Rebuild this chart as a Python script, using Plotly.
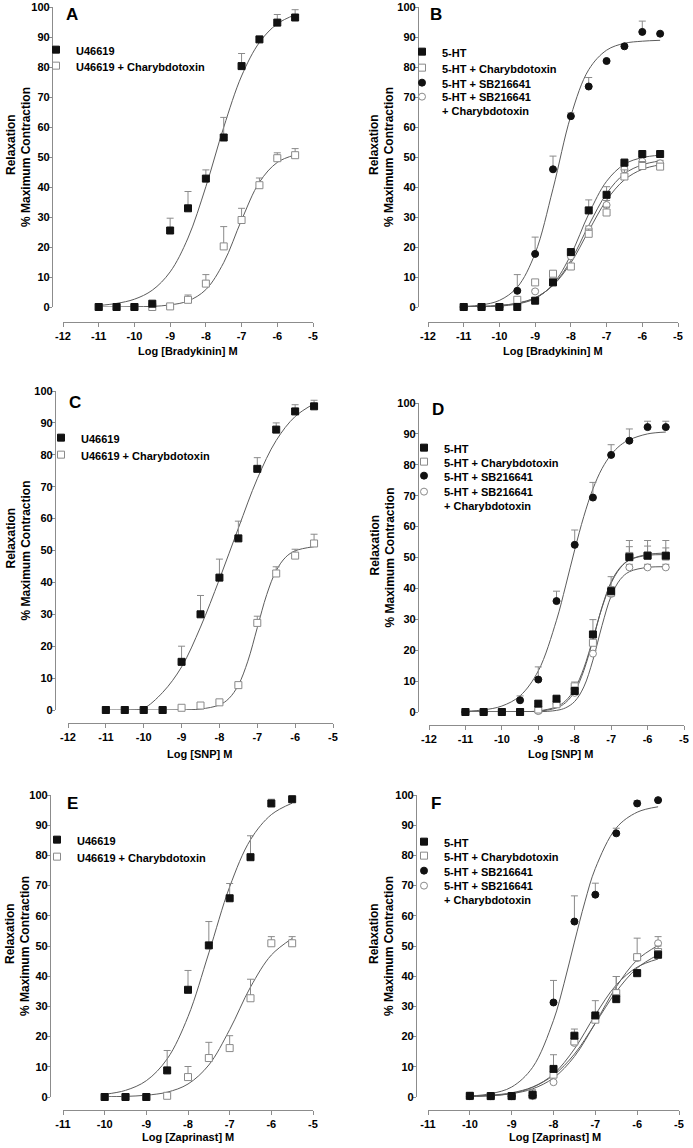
import plotly.graph_objects as go

W, H = 693, 1148

# ------------------------------------------------------------------ data
TICKS_12 = [-12, -11, -10, -9, -8, -7, -6, -5]
TICKS_12_TEXT = ["-12", "-11", "-10", "-9", "-8", "-7", "-6", "-5"]
TICKS_11 = [-11, -10, -9, -8, -7, -6, -5]
TICKS_11_TEXT = ["-11", "-10", "-9", "-8", "-7", "-6", "-5"]
Y_TICKS = [0, 10, 20, 30, 40, 50, 60, 70, 80, 90, 100]

# Panel A : bradykinin, U46619 pre-contraction
A_x = [-11, -10.5, -10, -9.5, -9, -8.5, -8, -7.5, -7, -6.5, -6, -5.5]
A_u46619 = [0, 0, 0, 1.1, 25.5, 32.9, 42.8, 56.5, 80.3, 89.2, 94.8, 96.5]
A_u46619_sem = [0, 0, 0, 0.5, 4.1, 5.6, 2.9, 6.7, 4.2, 0.6, 2.7, 2.6]
A_u46619_ctx = [0, 0, 0, 0, 0.2, 2.4, 7.8, 20.2, 29.0, 40.6, 49.6, 50.6]
A_u46619_ctx_sem = [0, 0, 0, 0, 0, 1.6, 3.0, 6.6, 3.9, 2.4, 1.8, 2.2]
A_fit_x = [-11, -10.5, -10, -9.5, -9, -8.5, -8, -7.5, -7, -6.5, -6, -5.5]
A_fit_u46619 = [0.5, 1.2, 2.6, 5.6, 11.7, 23.0, 40.1, 59.9, 77.0, 88.2, 94.4, 97.4]
A_fit_u46619_ctx = [0.0, 0.0, 0.1, 0.2, 0.7, 2.0, 5.8, 14.8, 29.0, 41.6, 48.2, 50.7]

# Panel B : bradykinin, 5-HT pre-contraction
B_x = [-11, -10.5, -10, -9.5, -9, -8.5, -8, -7.5, -7, -6.5, -6, -5.5]
B_5ht = [0, 0, 0, 0, 2.1, 8.2, 18.3, 32.2, 37.4, 48.1, 51.0, 51.0]
B_5ht_sem = [0, 0, 0, 0, 0, 1.0, 1.0, 3.5, 2.7, 1.2, 0.8, 0.8]
B_5ht_ctx = [0, 0, 0, 2.4, 8.2, 11.1, 13.5, 24.4, 31.5, 43.5, 47.0, 46.8]
B_5ht_ctx_sem = [0, 0, 0, 0.5, 0.5, 0.8, 1.0, 1.6, 1.8, 2.2, 1.5, 1.0]
B_5ht_sb = [0, 0, 0, 5.4, 17.7, 45.9, 63.6, 73.5, 82.0, 86.9, 91.7, 91.1]
B_5ht_sb_sem = [0, 0, 0, 5.4, 5.6, 4.4, 1.1, 3.0, 0, 0, 3.6, 0]
B_5ht_sb_ctx = [0, 0, 0, 1.0, 5.2, 9.5, 16.9, 26.0, 34.0, 45.9, 48.5, 47.9]
B_5ht_sb_ctx_sem = [0, 0, 0, 0, 0.5, 1.0, 1.0, 1.0, 1.5, 1.5, 1.5, 1.0]
B_fit_x = [-11, -10.5, -10, -9.5, -9, -8.5, -8, -7.5, -7, -6.5, -6, -5.5]
B_fit_5ht = [0.0, 0.1, 0.3, 1.0, 2.8, 7.6, 17.4, 31.0, 41.9, 47.6, 49.8, 50.6]
B_fit_5ht_ctx = [0.1, 0.2, 0.5, 1.3, 3.1, 7.2, 14.7, 25.4, 35.6, 42.4, 45.9, 47.4]
B_fit_5ht_sb = [0.2, 0.7, 2.2, 6.6, 17.9, 39.4, 63.7, 79.1, 85.6, 87.9, 88.6, 88.9]
B_fit_5ht_sb_ctx = [0.1, 0.2, 0.5, 1.2, 3.0, 7.3, 15.5, 27.2, 37.8, 44.4, 47.4, 48.7]

# Panel C : SNP, U46619 pre-contraction
C_x = [-11, -10.5, -10, -9.5, -9, -8.5, -8, -7.5, -7, -6.5, -6, -5.5]
C_u46619 = [0, 0, 0, 0, 15.1, 30.0, 41.5, 53.8, 75.6, 87.9, 93.6, 95.2]
C_u46619_sem = [0, 0, 0, 0, 4.9, 5.9, 5.8, 5.4, 3.5, 2.1, 2.1, 1.9]
C_u46619_ctx = [0, 0, 0, 0, 0.7, 1.4, 2.4, 7.8, 27.3, 42.8, 48.4, 52.2]
C_u46619_ctx_sem = [0, 0, 0, 0, 0, 0, 0, 0, 2.1, 2.1, 2.0, 2.9]
C_fit_u46619_x = [-10.5, -10.25, -10, -9.5, -9, -8.5, -8, -7.5, -7, -6.5, -6, -5.5]
C_fit_u46619 = [0, 0, 0.5, 5.5, 13.5, 26.0, 41.0, 57.0, 72.5, 84.5, 92.0, 96.0]
C_fit_ctx_x = [-11, -10.5, -10, -9.5, -9, -8.5, -8, -7.75, -7.5, -7.25, -7, -6.75,
               -6.5, -6.25, -6, -5.5]
C_fit_u46619_ctx = [0, 0, 0, 0, 0.05, 0.3, 1.6, 3.6, 7.8, 15.3, 25.8, 36.2,
                    43.7, 47.9, 49.9, 51.2]

# Panel D : SNP, 5-HT pre-contraction
D_x = [-11, -10.5, -10, -9.5, -9, -8.5, -8, -7.5, -7, -6.5, -6, -5.5]
D_5ht = [0, 0, 0, 0, 2.7, 4.3, 6.8, 25.1, 39.1, 50.1, 50.6, 50.6]
D_5ht_sem = [0, 0, 0, 0, 1.0, 0.8, 1.3, 4.8, 4.7, 5.4, 4.9, 4.9]
D_5ht_ctx = [0, 0, 0, 0, 0.8, 2.5, 8.3, 22.4, 38.6, 50.5, 50.6, 50.3]
D_5ht_ctx_sem = [0, 0, 0, 0, 0, 0, 1.4, 2.0, 2.0, 3.0, 3.1, 2.8]
D_5ht_sb = [0, 0, 0, 3.8, 10.5, 35.9, 54.1, 69.4, 83.2, 87.8, 92.2, 92.2]
D_5ht_sb_sem = [0, 0, 0, 1.4, 4.1, 3.2, 4.8, 4.9, 3.3, 3.8, 1.9, 1.9]
D_5ht_sb_ctx = [0, 0, 0, 0, 0.3, 2.7, 6.2, 18.9, 38.2, 46.8, 46.8, 46.8]
D_5ht_sb_ctx_sem = [0, 0, 0, 0, 0, 0, 0.5, 1.0, 1.5, 1.0, 1.0, 1.0]
D_fit_x = [-11, -10.5, -10, -9.5, -9, -8.5, -8.25, -8, -7.75, -7.5, -7.25, -7,
           -6.75, -6.5, -6, -5.5]
D_fit_5ht = [0, 0, 0, 0.04, 0.24, 1.32, 3.03, 6.64, 13.4, 23.3, 34.0, 42.1,
             46.8, 49.2, 50.7, 50.9]
D_fit_5ht_ctx = [0, 0, 0.01, 0.07, 0.35, 1.69, 3.63, 7.47, 14.2, 23.7, 33.8, 41.7,
                 46.6, 49.2, 51.0, 51.4]
D_fit_5ht_sb = [0.25, 0.69, 1.93, 5.23, 13.3, 29.7, 40.8, 52.5, 63.3, 72.2, 78.8, 83.3,
                86.3, 88.1, 90.0, 90.6]
D_fit_5ht_sb_ctx = [0, 0, 0, 0.01, 0.07, 0.52, 1.35, 3.42, 8.12, 16.8, 28.0, 37.5,
                    42.9, 45.4, 46.8, 47.0]

# Panel E : zaprinast, U46619 pre-contraction
E_x = [-10, -9.5, -9, -8.5, -8, -7.5, -7, -6.5, -6, -5.5]
E_u46619 = [0, 0, 0, 8.8, 35.5, 50.2, 65.8, 79.4, 97.2, 98.6]
E_u46619_sem = [0, 0, 0, 6.6, 6.4, 7.9, 4.9, 7.1, 1.4, 0.5]
E_u46619_ctx = [0, 0, 0, 0.4, 6.6, 12.9, 16.2, 32.7, 50.9, 50.9]
E_u46619_ctx_sem = [0, 0, 0, 0, 3.5, 5.2, 4.1, 6.3, 2.2, 2.2]
E_fit_x = [-10, -9.5, -9, -8.5, -8, -7.5, -7, -6.5, -6, -5.5]
E_fit_u46619 = [0.9, 2.2, 5.4, 12.6, 26.6, 47.7, 69.6, 85.2, 93.5, 97.3]
E_fit_u46619_ctx = [0.1, 0.2, 0.6, 1.6, 4.3, 10.6, 22.3, 36.4, 47.0, 52.5]

# Panel F : zaprinast, 5-HT pre-contraction
F_x = [-10, -9.5, -9, -8.5, -8, -7.5, -7, -6.5, -6, -5.5]
F_5ht = [0.4, 0.3, 0.3, 0.8, 9.3, 20.3, 27.0, 32.4, 41.0, 47.1]
F_5ht_sem = [0, 0, 0, 1.6, 4.7, 2.2, 4.9, 1.5, 1.2, 1.4]
F_5ht_ctx = [0.3, 0.3, 0.3, 0.5, 7.4, 18.4, 25.6, 34.4, 46.3, 48.0]
F_5ht_ctx_sem = [0, 0, 0, 0, 1.0, 1.5, 2.0, 5.5, 6.3, 2.0]
F_5ht_sb = [0.3, 0.3, 0.3, 0.5, 31.3, 58.1, 67.0, 87.3, 97.2, 98.3]
F_5ht_sb_sem = [0, 0, 0, 0, 7.3, 8.5, 3.8, 1.7, 0.9, 0]
F_5ht_sb_ctx = [0.3, 0.3, 0.3, 0.3, 4.9, 17.9, 26.9, 33.8, 46.0, 50.9]
F_5ht_sb_ctx_sem = [0, 0, 0, 0, 0.5, 0.5, 1.0, 6.1, 1.0, 2.2]
F_fit_x = [-10, -9.5, -9, -8.5, -8, -7.5, -7, -6.5, -6, -5.5]
F_fit_5ht = [0.2, 0.5, 1.2, 3.2, 7.6, 15.9, 27.2, 37.1, 43.0, 45.7]
F_fit_5ht_ctx = [0.3, 0.6, 1.4, 3.3, 7.2, 14.2, 24.4, 34.9, 42.7, 47.1]
F_fit_5ht_sb_ctx = [0.2, 0.4, 1.1, 2.7, 6.3, 13.4, 24.5, 36.5, 45.4, 50.2]
F_fit_sb_x = [-10, -9.5, -9, -8.5, -8, -7.75, -7.5, -7.25, -7, -6.5, -6, -5.5]
F_fit_5ht_sb = [0.3, 1.1, 3.3, 9.8, 25.4, 37.5, 51.3, 64.6, 75.7, 89.1, 94.3, 96.1]

NAME_U = "U46619"
NAME_U_CTX = "U46619 + Charybdotoxin"
NAME_5HT = "5-HT"
NAME_5HT_CTX = "5-HT + Charybdotoxin"
NAME_5HT_SB = "5-HT + SB216641"
NAME_5HT_SB_CTX = "5-HT + SB216641<br>+ Charybdotoxin"

X_TITLES = ["Log [Bradykinin] M", "Log [Bradykinin] M", "Log [SNP] M",
            "Log [SNP] M", "Log [Zaprinast] M", "Log [Zaprinast] M"]
LETTERS = ["A", "B", "C", "D", "E", "F"]

# ------------------------------------------------------------------ style
FONT = "Liberation Sans, Arial, sans-serif"
AXIS_GREY = "#8c8c8c"
CURVE_GREY = "#5c5c5c"
ERR_GREY = "#8a8a8a"
OPEN_EDGE = "#8a8a8a"

STYLE = {
    "fsq": dict(symbol="square", size=7, color="#111111", line=dict(color="#111111", width=1)),
    "osq": dict(symbol="square", size=7, color="#ffffff", line=dict(color=OPEN_EDGE, width=1)),
    "fci": dict(symbol="circle", size=7, color="#111111", line=dict(color="#111111", width=1)),
    "oci": dict(symbol="circle", size=7, color="#ffffff", line=dict(color=OPEN_EDGE, width=1)),
}


def fx(px):
    return px / W


def fy(py):
    return 1 - py / H


# panel geometry in pixels: x-domain, y(0), y(100), y-axis x, x-axis y
PANELS = [
    dict(xd=(63, 313), y0=307, y100=7, yax=52, xax=322, ticks=(TICKS_12, TICKS_12_TEXT)),
    dict(xd=(428, 678), y0=307, y100=7, yax=418, xax=322, ticks=(TICKS_12, TICKS_12_TEXT)),
    dict(xd=(68, 333), y0=710, y100=391, yax=55, xax=723, ticks=(TICKS_12, TICKS_12_TEXT)),
    dict(xd=(429, 684), y0=712, y100=403, yax=418, xax=725, ticks=(TICKS_12, TICKS_12_TEXT)),
    dict(xd=(63, 313), y0=1097, y100=795, yax=50, xax=1110, ticks=(TICKS_11, TICKS_11_TEXT)),
    dict(xd=(428, 679), y0=1097, y100=795, yax=416, xax=1110, ticks=(TICKS_11, TICKS_11_TEXT)),
]
LETTER_POS = [(72, 14), (436, 14), (75, 402), (438, 409), (72, 803), (436, 803)]
XTITLE_POS = [(188, 351), (553, 351), (200, 754), (560, 754), (188, 1137), (555, 1137)]
YTITLE_X = [(11, 26), (374, 389), (10, 25), (374, 389), (10, 25), (374, 389)]

fig = go.Figure()
legend_layouts = {}
legend_counter = [0]


def add_curve(panel, x, y):
    fig.add_trace(go.Scatter(
        x=x, y=y, mode="lines",
        line=dict(color=CURVE_GREY, width=1, shape="spline", smoothing=1.0),
        xaxis="x" + ("" if panel == 1 else str(panel)),
        yaxis="y" + ("" if panel == 1 else str(panel)),
        showlegend=False, hoverinfo="skip"))


def add_series(panel, x, y, sem, style, name, leg_pos):
    legend_counter[0] += 1
    k = legend_counter[0]
    lname = "legend" if k == 1 else "legend%d" % k
    fig.add_trace(go.Scatter(
        x=x, y=y, mode="markers", name=name,
        marker=STYLE[style],
        error_y=dict(type="data", symmetric=False, array=sem,
                     arrayminus=[0] * len(sem), color=ERR_GREY,
                     thickness=1, width=3.5),
        xaxis="x" + ("" if panel == 1 else str(panel)),
        yaxis="y" + ("" if panel == 1 else str(panel)),
        cliponaxis=False, legend=lname, showlegend=True))
    tx, ty = leg_pos
    legend_layouts[lname] = dict(
        x=fx(tx - 34), xanchor="left",
        y=fy(ty - 14), yanchor="top",
        valign="top", bgcolor="rgba(0,0,0,0)", borderwidth=0,
        font=dict(family=FONT, size=11, color="#000000", weight="bold"),
        tracegroupgap=0, itemclick=False, itemdoubleclick=False)


# curves
add_curve(1, A_fit_x, A_fit_u46619)
add_curve(1, A_fit_x, A_fit_u46619_ctx)
add_curve(2, B_fit_x, B_fit_5ht)
add_curve(2, B_fit_x, B_fit_5ht_ctx)
add_curve(2, B_fit_x, B_fit_5ht_sb)
add_curve(2, B_fit_x, B_fit_5ht_sb_ctx)
add_curve(3, C_fit_u46619_x, C_fit_u46619)
add_curve(3, C_fit_ctx_x, C_fit_u46619_ctx)
add_curve(4, D_fit_x, D_fit_5ht)
add_curve(4, D_fit_x, D_fit_5ht_ctx)
add_curve(4, D_fit_x, D_fit_5ht_sb)
add_curve(4, D_fit_x, D_fit_5ht_sb_ctx)
add_curve(5, E_fit_x, E_fit_u46619)
add_curve(5, E_fit_x, E_fit_u46619_ctx)
add_curve(6, F_fit_x, F_fit_5ht)
add_curve(6, F_fit_x, F_fit_5ht_ctx)
add_curve(6, F_fit_sb_x, F_fit_5ht_sb)
add_curve(6, F_fit_x, F_fit_5ht_sb_ctx)

# markers (open first, filled on top)
add_series(1, A_x, A_u46619_ctx, A_u46619_ctx_sem, "osq", NAME_U_CTX, (70, 66))
add_series(1, A_x, A_u46619, A_u46619_sem, "fsq", NAME_U, (70, 50))

add_series(2, B_x, B_5ht_sb_ctx, B_5ht_sb_ctx_sem, "oci", NAME_5HT_SB_CTX, (436, 97))
add_series(2, B_x, B_5ht_ctx, B_5ht_ctx_sem, "osq", NAME_5HT_CTX, (436, 68))
add_series(2, B_x, B_5ht_sb, B_5ht_sb_sem, "fci", NAME_5HT_SB, (436, 83))
add_series(2, B_x, B_5ht, B_5ht_sem, "fsq", NAME_5HT, (436, 52))

add_series(3, C_x, C_u46619_ctx, C_u46619_ctx_sem, "osq", NAME_U_CTX, (75, 455))
add_series(3, C_x, C_u46619, C_u46619_sem, "fsq", NAME_U, (75, 438))

add_series(4, D_x, D_5ht_sb_ctx, D_5ht_sb_ctx_sem, "oci", NAME_5HT_SB_CTX, (438, 492))
add_series(4, D_x, D_5ht_ctx, D_5ht_ctx_sem, "osq", NAME_5HT_CTX, (438, 462))
add_series(4, D_x, D_5ht_sb, D_5ht_sb_sem, "fci", NAME_5HT_SB, (438, 476))
add_series(4, D_x, D_5ht, D_5ht_sem, "fsq", NAME_5HT, (438, 448))

add_series(5, E_x, E_u46619_ctx, E_u46619_ctx_sem, "osq", NAME_U_CTX, (71, 857))
add_series(5, E_x, E_u46619, E_u46619_sem, "fsq", NAME_U, (71, 840))

add_series(6, F_x, F_5ht_sb_ctx, F_5ht_sb_ctx_sem, "oci", NAME_5HT_SB_CTX, (438, 886))
add_series(6, F_x, F_5ht_ctx, F_5ht_ctx_sem, "osq", NAME_5HT_CTX, (438, 856))
add_series(6, F_x, F_5ht_sb, F_5ht_sb_sem, "fci", NAME_5HT_SB, (438, 871))
add_series(6, F_x, F_5ht, F_5ht_sem, "fsq", NAME_5HT, (438, 842))

layout = dict(
    width=W, height=H, template="none",
    margin=dict(l=0, r=0, t=0, b=0),
    paper_bgcolor="#ffffff", plot_bgcolor="rgba(0,0,0,0)",
    font=dict(family=FONT, color="#000000"),
    annotations=[],
)
layout.update(legend_layouts)

tick_font = dict(family=FONT, size=11, color="#000000", weight="bold")

for i, p in enumerate(PANELS, start=1):
    sfx = "" if i == 1 else str(i)
    tv, tt = p["ticks"]
    layout["xaxis" + sfx] = dict(
        domain=[fx(p["xd"][0]), fx(p["xd"][1])], range=[tv[0], tv[-1]],
        anchor="free", position=fy(p["xax"]),
        showline=True, linecolor=AXIS_GREY, linewidth=1.2,
        ticks="outside", ticklen=4, tickwidth=1, tickcolor=AXIS_GREY,
        tickvals=tv, ticktext=tt, tickfont=tick_font,
        showgrid=False, zeroline=False, automargin=False, fixedrange=True)
    layout["yaxis" + sfx] = dict(
        domain=[fy(p["y0"]), fy(p["y100"])], range=[0, 100],
        anchor="free", position=fx(p["yax"]),
        showline=True, linecolor=AXIS_GREY, linewidth=1.2,
        ticks="outside", ticklen=3, tickwidth=1, tickcolor=AXIS_GREY,
        tickvals=Y_TICKS, tickfont=tick_font,
        showgrid=False, zeroline=False, automargin=False, fixedrange=True)

    lx, ly = LETTER_POS[i - 1]
    layout["annotations"].append(dict(
        text=LETTERS[i - 1], x=fx(lx), y=fy(ly), xref="paper", yref="paper",
        showarrow=False, xanchor="center", yanchor="middle",
        font=dict(family=FONT, size=17, color="#000000", weight="bold")))

    tx, ty = XTITLE_POS[i - 1]
    layout["annotations"].append(dict(
        text=X_TITLES[i - 1], x=fx(tx), y=fy(ty), xref="paper", yref="paper",
        showarrow=False, xanchor="center", yanchor="middle",
        font=dict(family=FONT, size=11, color="#000000", weight="bold")))

    yc = (p["y0"] + p["y100"]) / 2
    x1, x2 = YTITLE_X[i - 1]
    layout["annotations"].append(dict(
        text="Relaxation", x=fx(x1), y=fy(yc - 12), xref="paper", yref="paper",
        showarrow=False, xanchor="center", yanchor="middle", textangle=-90,
        font=dict(family=FONT, size=12, color="#000000", weight="bold")))
    layout["annotations"].append(dict(
        text="% Maximum Contraction", x=fx(x2), y=fy(yc), xref="paper", yref="paper",
        showarrow=False, xanchor="center", yanchor="middle", textangle=-90,
        font=dict(family=FONT, size=12, color="#000000", weight="bold")))

fig.update_layout(**layout)
try:
    fig.update_yaxes(ticklabelstandoff=-3)
except Exception:
    pass

fig.write_html(
    "out.html",
    config={"displayModeBar": False},
    post_script="document.body.style.margin='0';document.body.style.padding='0';"
                "document.body.style.overflow='hidden';")
